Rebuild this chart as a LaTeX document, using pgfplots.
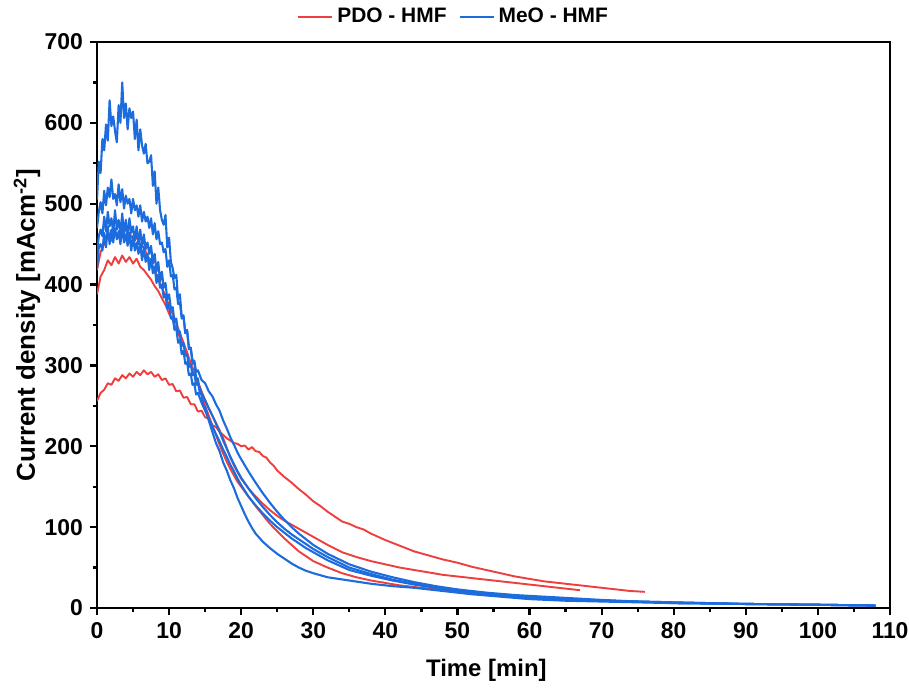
\documentclass[border=0pt]{standalone}
\usepackage{pgfplots}
\pgfplotsset{compat=1.18}
\usepackage{fontspec}
\setmainfont{Liberation Sans}

\definecolor{pdored}{RGB}{238,62,62}
\definecolor{meoblue}{RGB}{28,108,222}

\begin{document}
\begin{tikzpicture}
\useasboundingbox (-48.5bp,-40bp) rectangle (406bp,304bp);
\begin{axis}[
  scale only axis,
  width=396.5bp, height=283bp,
  xmin=0, xmax=110, ymin=0, ymax=700,
  xtick={0,10,...,110}, ytick={0,100,...,700},
  minor x tick num=1, minor y tick num=1,
  tick align=outside, tick pos=left,
  major tick length=3.5bp, minor tick length=2bp,
  every tick/.style={black, line width=1.1bp},
  axis line style={line width=1.4bp},
  /pgf/number format/assume math mode=true,
  tick label style={font=\bfseries\fontsize{11.5}{13}\selectfont},
  xlabel={Time [min]},
  ylabel={Current density [mAcm\textsuperscript{-2}]},
  xlabel style={font=\bfseries\fontsize{12}{14}\selectfont,
    at={(axis description cs:0.491,-0.1095)}, anchor=center},
  ylabel style={font=\bfseries\fontsize{13}{15}\selectfont,
    at={(axis description cs:-0.0883,0.5)}, anchor=center},
  legend columns=2,
  legend style={at={(axis description cs:0.451,1.044)}, anchor=center,
    draw=none, fill=none, font=\bfseries\fontsize{10.5}{12}\selectfont,
    /tikz/every even column/.append style={column sep=4bp}},
  every axis plot/.append style={line width=0.95bp, line join=round},
]
% ---------------- PDO - HMF ----------------
\addplot[pdored] coordinates {
(0,256) (0.5,266) (1,270) (1.5,278) (2,276) (2.5,284) (3,281) (3.5,288) (4,284)
(4.5,290) (5,286) (5.5,292) (6,288) (6.5,294) (7,289) (7.5,292) (8,286) (8.5,289)
(9,282) (9.5,284) (10,276) (10.5,277) (11,268) (11.5,269) (12,260) (12.5,261)
(13,252) (13.5,252) (14,243) (14.5,244) (15,236) (15.5,234) (16,226) (16.5,224)
(17,218) (17.5,214) (18,210) (18.5,207) (19,204) (19.5,203) (20,200) (20.5,201)
(21,196) (21.5,199) (22,194) (22.5,193) (23,188) (23.5,186) (24,180) (24.5,176)
(25,170) (26,162) (27,155) (28,147) (29,140) (30,132) (31,126) (32,119) (33,113)
(34,107) (35,104) (36,100) (37,97) (38,92) (39,88) (40,84) (42,77) (44,70) (46,65)
(48,60) (50,56) (52,51) (54,47) (56,43) (58,39) (60,36) (62,33) (64,31) (66,29)
(68,27) (70,25) (72,23) (74,21) (76,20)};
\addlegendentry{PDO - HMF}
\addplot[pdored, forget plot] coordinates {
(0,388) (0.5,410) (1,418) (1.5,430) (2,424) (2.5,434) (3,426) (3.5,436) (4,428)
(4.5,434) (5,426) (5.5,432) (6,422) (6.5,418) (7,412) (7.5,406) (8,398) (8.5,392)
(9,383) (9.5,375) (10,364) (10.5,356) (11,345) (11.5,335) (12,324) (12.5,314)
(13,302) (13.5,292) (14,280) (14.5,268) (15,257) (15.5,247) (16,238) (16.5,229)
(17,220) (17.5,210) (18,198) (18.5,186) (19,176) (19.5,168) (20,160) (21,148)
(22,138) (23,129) (24,121) (25,114) (26,108) (27,103) (28,98) (30,88) (32,78)
(34,69) (36,63) (38,58) (40,54) (42,50) (44,47) (46,44) (48,41) (50,39) (52,37)
(54,35) (56,33) (58,31) (60,29) (62,27) (64,25) (66,23) (67,22)};
\addplot[pdored, forget plot] coordinates {
(0,418) (0.5,440) (1,450) (1.5,460) (2,454) (2.5,464) (3,458) (3.5,466) (4,458)
(4.5,464) (5,456) (5.5,458) (6,450) (6.5,446) (7,436) (7.5,428) (8,418) (8.5,408)
(9,396) (9.5,386) (10,374) (10.5,364) (11,352) (11.5,340) (12,328) (12.5,316)
(13,302) (13.5,290) (14,276) (14.5,264) (15,250) (15.5,238) (16,226) (16.5,214)
(17,202) (17.5,191) (18,181) (18.5,172) (19,164) (19.5,156) (20,150) (21,138)
(22,126) (23,115) (24,104) (25,95) (26,86) (27,78) (28,70) (29,64) (30,58)
(32,50) (34,43) (36,38) (38,34) (40,31) (42,28) (44,26) (46,24) (48,22) (50,20)};
% ---------------- MeO - HMF ----------------
\addplot[meoblue, line width=1.05bp] coordinates {
(0,505) (0.25,552) (0.5,538) (0.75,580) (1,566) (1.25,598) (1.5,578) (1.75,628)
(2,596) (2.25,608) (2.5,590) (2.75,576) (3,622) (3.25,600) (3.5,650) (3.75,606)
(4,624) (4.25,592) (4.5,618) (4.75,606) (5,614) (5.25,580) (5.5,604) (5.75,566)
(6,592) (6.25,572) (6.5,562) (6.75,574) (7,550) (7.25,552) (7.5,560) (7.75,522)
(8,540) (8.25,500) (8.5,520) (8.75,492) (9,480) (9.25,474) (9.5,486) (9.75,446)
(10,458) (10.25,428) (10.5,420) (10.75,408) (11,412) (11.25,382) (11.5,388)
(11.75,360) (12,362) (12.25,340) (12.5,344) (12.75,320) (13,322) (13.25,302)
(13.5,304) (13.75,284) (14,284) (14.25,266) (14.5,264) (14.75,250) (15,248)
(15.5,232) (16,218) (16.5,204) (17,194) (17.5,180) (18,170) (18.5,158) (19,148)
(19.5,136) (20,126) (20.5,116) (21,107) (21.5,99) (22,92) (23,82) (24,74) (25,67)
(26,61) (27,55) (28,50) (29,46) (30,43) (32,38) (35,34) (38,30) (41,27) (44,25)
(48,21) (52,17) (56,14) (60,11) (65,9) (70,8) (75,7) (80,6) (90,5) (100,4) (108,3)};
\addlegendentry{MeO - HMF}
\addplot[meoblue, line width=1.05bp, forget plot] coordinates {
(0,470) (0.25,490) (0.5,502) (0.75,488) (1,516) (1.25,498) (1.5,520) (1.75,508)
(2,530) (2.25,506) (2.5,512) (2.75,498) (3,524) (3.25,502) (3.5,518) (3.75,494)
(4,510) (4.25,500) (4.5,506) (4.75,488) (5,506) (5.25,492) (5.5,498) (5.75,484)
(6,498) (6.25,478) (6.5,490) (6.75,478) (7,484) (7.25,470) (7.5,482) (7.75,462)
(8,476) (8.25,456) (8.5,466) (8.75,450) (9,452) (9.25,440) (9.5,444) (9.75,422)
(10,430) (10.25,410) (10.5,412) (10.75,394) (11,396) (11.25,376) (11.5,378)
(11.75,358) (12,360) (12.25,340) (12.5,342) (12.75,322) (13,322) (13.25,306)
(13.5,306) (13.75,292) (14,294) (14.5,282) (15,278) (15.5,268) (16,262) (16.5,252)
(17,244) (17.5,232) (18,222) (18.5,211) (19,202) (19.5,192) (20,184) (21,169)
(22,155) (23,142) (24,130) (25,119) (26,109) (27,100) (28,92) (29,85) (30,78)
(32,67) (35,54) (38,45) (41,38) (44,32) (47,27) (50,23) (54,19) (58,16) (62,14)
(66,12) (70,10) (75,8) (80,7) (85,6) (90,5) (100,4) (108,3)};
\addplot[meoblue, line width=1.05bp, forget plot] coordinates {
(0,440) (0.25,460) (0.5,468) (0.75,460) (1,484) (1.25,466) (1.5,490) (1.75,472)
(2,482) (2.25,464) (2.5,492) (2.75,468) (3,480) (3.25,464) (3.5,488) (3.75,462)
(4,480) (4.25,458) (4.5,482) (4.75,464) (5,472) (5.25,454) (5.5,472) (5.75,450)
(6,468) (6.25,446) (6.5,462) (6.75,444) (7,452) (7.25,438) (7.5,448) (7.75,426)
(8,438) (8.25,416) (8.5,428) (8.75,404) (9,416) (9.25,396) (9.5,402) (9.75,382)
(10,388) (10.25,370) (10.5,372) (10.75,354) (11,358) (11.25,340) (11.5,342)
(11.75,324) (12,328) (12.25,312) (12.5,314) (12.75,298) (13,302) (13.25,288)
(13.5,290) (13.75,276) (14,278) (14.5,266) (15,257) (15.5,247) (16,238) (16.5,228)
(17,218) (17.5,207) (18,197) (18.5,187) (19,178) (19.5,169) (20,161) (21,148)
(22,136) (23,125) (24,115) (25,106) (26,98) (27,91) (28,85) (29,79) (30,73)
(32,63) (35,50) (38,42) (41,35) (44,30) (47,25) (50,22) (54,18) (58,15) (62,13)
(66,11) (70,9) (75,8) (80,7) (90,5) (100,4) (108,3)};
\addplot[meoblue, line width=1.05bp, forget plot] coordinates {
(0,420) (0.25,446) (0.5,450) (0.75,442) (1,464) (1.25,446) (1.5,472) (1.75,450)
(2,468) (2.25,452) (2.5,470) (2.75,456) (3,466) (3.25,450) (3.5,472) (3.75,452)
(4,462) (4.25,448) (4.5,464) (4.75,442) (5,460) (5.25,442) (5.5,452) (5.75,438)
(6,450) (6.25,430) (6.5,446) (6.75,428) (7,438) (7.25,418) (7.5,432) (7.75,414)
(8,422) (8.25,402) (8.5,412) (8.75,396) (9,400) (9.25,384) (9.5,388) (9.75,370)
(10,376) (10.25,358) (10.5,360) (10.75,344) (11,346) (11.25,328) (11.5,332)
(11.75,314) (12,318) (12.25,302) (12.5,304) (12.75,288) (13,290) (13.25,276)
(13.5,278) (13.75,264) (14,266) (14.5,254) (15,244) (15.5,234) (16,225) (16.5,215)
(17,206) (17.5,196) (18,187) (18.5,177) (19,169) (19.5,160) (20,152) (21,138)
(22,127) (23,117) (24,108) (25,100) (26,93) (27,86) (28,80) (29,74) (30,69)
(32,59) (35,47) (38,40) (41,34) (44,29) (47,25) (50,21) (54,17) (58,14) (62,12)
(66,10) (70,9) (75,8) (80,6) (90,5) (100,4) (108,3)};
\end{axis}
\end{tikzpicture}
\end{document}
